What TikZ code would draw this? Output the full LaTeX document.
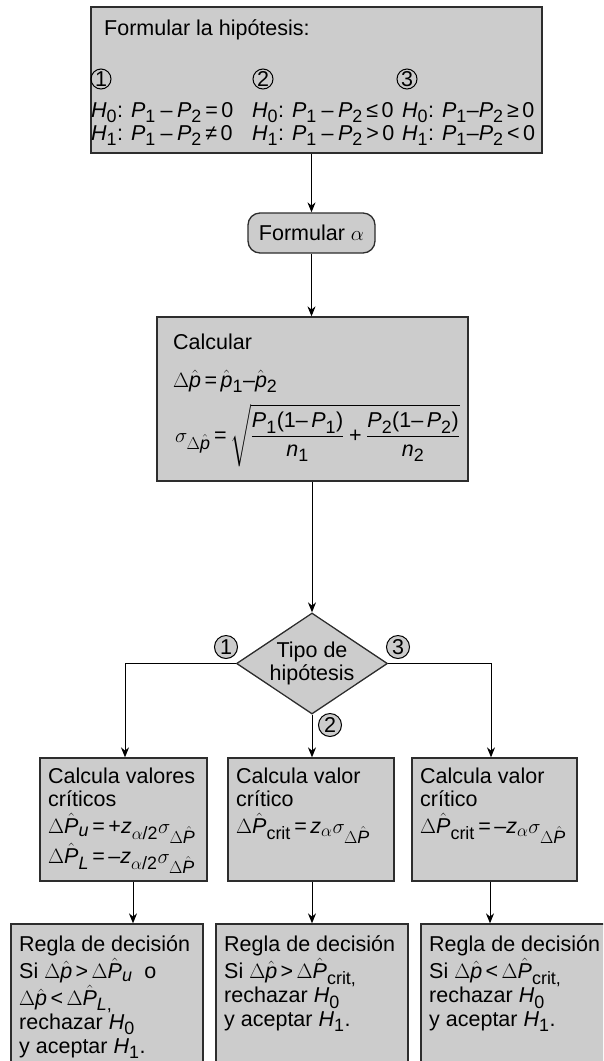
\documentclass[tikz,border=0pt]{standalone}
\usepackage{amsmath}
\usepackage[no-math]{fontspec}
\setmainfont{Liberation Sans}
\usepackage[italic]{mathastext}
\usepackage{xcolor}
\usetikzlibrary{shapes.geometric, positioning, arrows.meta, calc}

\definecolor{boxgray}{RGB}{204,204,204}
\definecolor{boxline}{RGB}{45,45,45}

% varias lineas, linea base = la primera
\newcommand{\lineas}[1]{\begin{tabular}[t]{@{}l@{}}#1\end{tabular}}
% relaciones con la letra del texto
\newcommand{\rne}{\mathrel{\text{≠}}}
\newcommand{\rle}{\mathrel{\text{≤}}}
\newcommand{\rge}{\mathrel{\text{≥}}}
\newcommand{\letra}{\fontsize{21.5}{23.5}\selectfont\thickmuskip=3mu plus 1mu\relax}

\tikzset{
    caja/.style={draw=boxline, fill=boxgray, line width=1.3pt, inner sep=0pt},
    redondo/.style={caja, rounded corners=12pt},
    rombo/.style={caja, diamond, aspect=1.5, inner sep=0pt, align=center,
        minimum width=151pt, minimum height=101pt},
    texto/.style={anchor=base west, inner sep=0pt},
    numc/.style={circle, draw, line width=1pt, inner sep=0pt, minimum size=20pt},
    numg/.style={numc, fill=boxgray, minimum size=23pt},
    flecha/.style={-{Stealth[length=10pt,width=8pt]}, line width=1pt},
}

\begin{document}
\begin{tikzpicture}[x=1pt, y=-1pt, every node/.style={font=\letra}]
    \useasboundingbox (0,0) rectangle (603,1061);
    \clip (0,0) rectangle (603,1061);

    % Hipotesis
    \node[caja, minimum width=451pt, minimum height=146pt] (hip) at (316.5,80) {};
    \node[texto] (hiptit) at (104,35) {Formular la hipótesis:};
    \node[numc] (n1) at (101,79) {1};
    \node[numc] (n2) at (263,79) {2};
    \node[numc] (n3) at (407,79) {3};
    \node[texto] (ha0) at (91,117) {$H_0$: $P_1 - P_2 = 0$};
    \node[texto] (ha1) at (91,140) {$H_1$: $P_1 - P_2 \rne 0$};
    \node[texto] (hb0) at (252,117) {$H_0$: $P_1 - P_2 \rle 0$};
    \node[texto] (hb1) at (252,140) {$H_1$: $P_1 - P_2 > 0$};
    \node[texto] (hc0) at (402,117) {$H_0$: $P_1 {-} P_2 \rge 0$};
    \node[texto] (hc1) at (402,140) {$H_1$: $P_1 {-} P_2 < 0$};

    % Nivel de significancia
    \node[redondo, minimum width=127pt, minimum height=40pt] (alfa) at (311.5,233) {Formular $\alpha$};

    % Calcular
    \node[caja, minimum width=311pt, minimum height=164pt] (calc) at (312.5,399) {};
    \node[texto] (calctit) at (173,349) {Calcular};
    \node[texto] (dif) at (173,387) {$\Delta\hat{p} = \hat{p}_1 {-} \hat{p}_2$};
    \node[texto] (sig) at (175,442) {$\sigma_{\Delta\hat{p}} = \sqrt{\dfrac{P_1(1{-}\,P_1)}{n_1} + \dfrac{P_2(1{-}\,P_2)}{n_2}}$};

    % Decision
    \node[rombo] (tipo) at (312,663.5) {Tipo de\\hipótesis};
    \node[numg] (r1) at (226,647) {1};
    \node[numg] (r3) at (398,647) {3};
    \node[numg] (r2) at (330,725) {2};

    % Valores criticos
    \node[caja, minimum width=167pt, minimum height=123pt] (izq) at (123.5,819.5) {};
    \node[caja, minimum width=166pt, minimum height=123pt] (cen) at (311,819.5) {};
    \node[caja, minimum width=165pt, minimum height=123pt] (der) at (494.5,819.5) {};
    \node[texto] (izqtxt) at (48,783) {\lineas{Calcula valores\\críticos\\
        $\Delta\hat{P}_u = +z_{\alpha/2}\sigma_{\Delta\hat{P}}$\\
        $\Delta\hat{P}_L = -z_{\alpha/2}\sigma_{\Delta\hat{P}}$}};
    \node[texto] (centxt) at (236,783) {\lineas{Calcula valor\\crítico\\
        $\Delta\hat{P}_{\mathrm{crit}} = z_{\alpha}\sigma_{\Delta\hat{P}}$}};
    \node[texto] (dertxt) at (420,783) {\lineas{Calcula valor\\crítico\\
        $\Delta\hat{P}_{\mathrm{crit}} = -z_{\alpha}\sigma_{\Delta\hat{P}}$}};

    % Reglas de decision
    \node[caja, minimum width=192pt, minimum height=151pt] (reg1) at (107,999.5) {};
    \node[caja, minimum width=192pt, minimum height=151pt] (reg2) at (312,999.5) {};
    \node[caja, minimum width=192pt, minimum height=151pt] (reg3) at (517,999.5) {};
    \node[texto] (reg1txt) at (19,951) {\lineas{Regla de decisión\\
        Si $\Delta\hat{p} > \Delta\hat{P}_u$\ \ o\\
        $\Delta\hat{p} < \Delta\hat{P}_{L,}$\\
        rechazar $H_0$\\y aceptar $H_1$.}};
    \node[texto] (reg2txt) at (224,951) {\lineas{Regla de decisión\\
        Si $\Delta\hat{p} > \Delta\hat{P}_{\mathrm{crit},}$\\
        rechazar $H_0$\\y aceptar $H_1$.}};
    \node[texto] (reg3txt) at (429,951) {\lineas{Regla de decisión\\
        Si $\Delta\hat{p} < \Delta\hat{P}_{\mathrm{crit},}$\\
        rechazar $H_0$\\y aceptar $H_1$.}};

    % Flechas
    \draw[flecha] (hip.south -| alfa.north) -- (alfa.north);
    \draw[flecha] (alfa.south) -- (alfa.south |- calc.north);
    \draw[flecha] (calc.south -| tipo.north) -- (tipo.north);
    \draw[flecha] (tipo.west) -| ([xshift=1.5pt]izq.north);
    \draw[flecha] (tipo.south) -- (tipo.south |- cen.north);
    \draw[flecha] (tipo.east) -| ([xshift=-3.5pt]der.north);
    \draw[flecha] ([xshift=9.5pt]izq.south) -- ([xshift=9.5pt]izq.south |- reg1.north);
    \draw[flecha] (cen.south -| reg2.north) -- (reg2.north);
    \draw[flecha] ([xshift=-4.5pt]der.south) -- ([xshift=-4.5pt]der.south |- reg3.north);
\end{tikzpicture}
\end{document}
